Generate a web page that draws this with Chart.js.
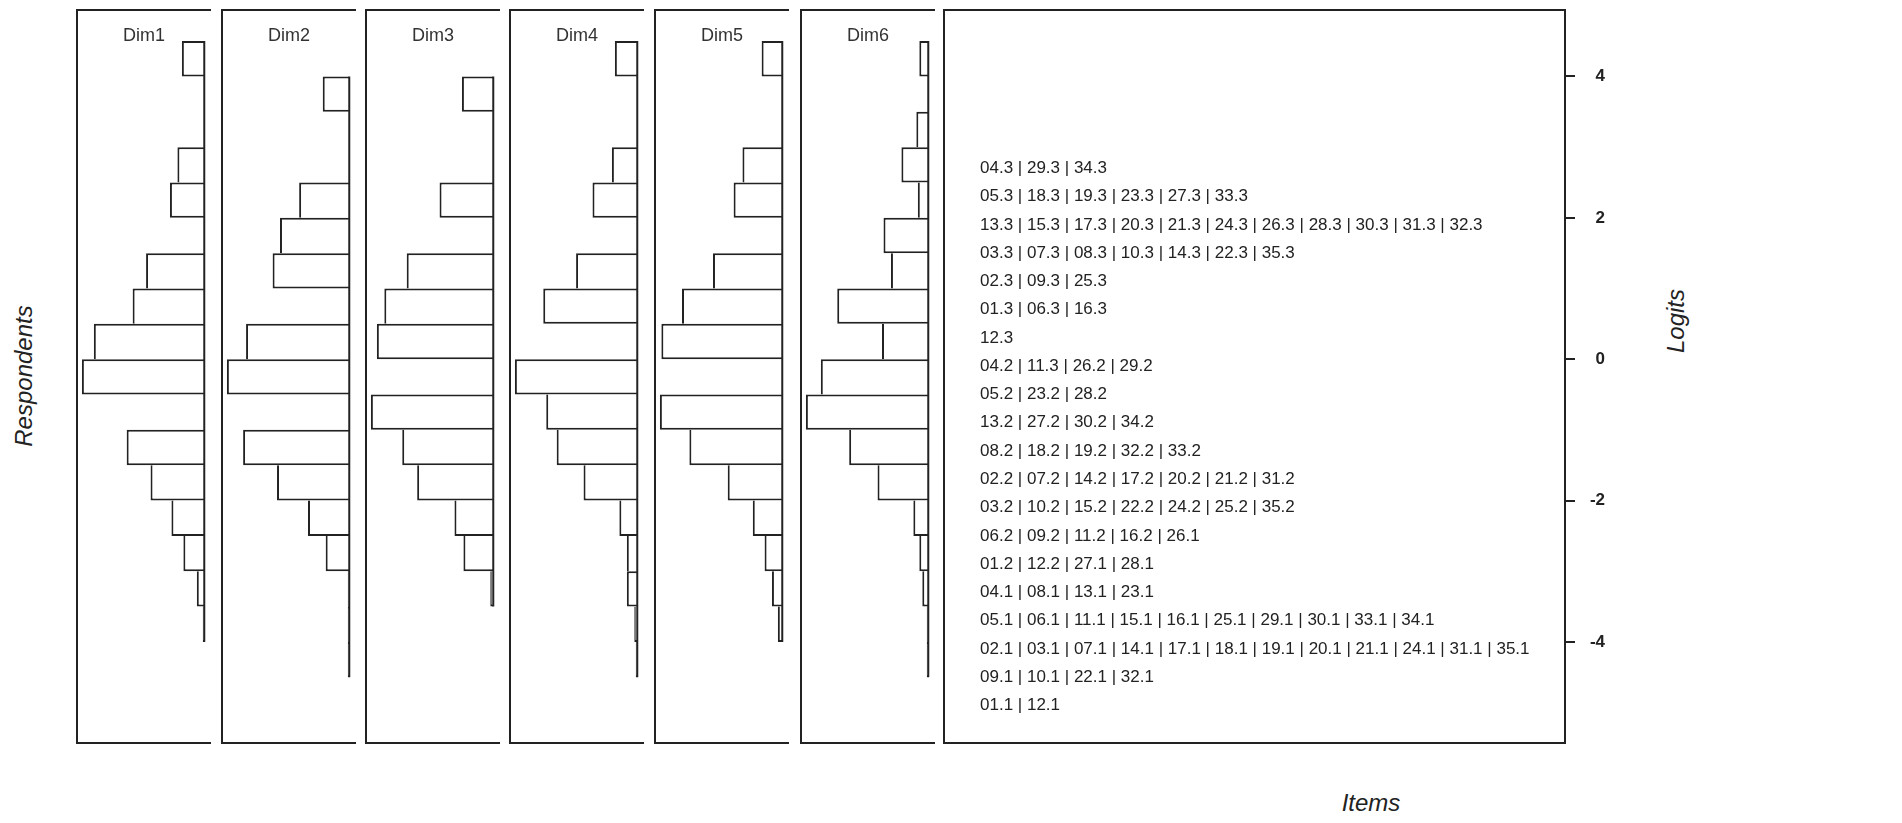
<!DOCTYPE html>
<html><head><meta charset="utf-8">
<script src="https://cdn.jsdelivr.net/npm/chart.js@4.4.0/dist/chart.umd.min.js"></script>
<style>
html,body{margin:0;padding:0;background:#fff;width:1902px;height:823px;overflow:hidden;font-family:"Liberation Sans",Arial,sans-serif;}
.frame{position:absolute;box-sizing:border-box;border:2px solid #222;pointer-events:none;}
.box{position:absolute;}
.lbl{position:absolute;color:#222;font-style:italic;white-space:nowrap;font-size:24px;line-height:24px;}
</style></head><body>
<script>
// ---------------- data ----------------
const binCenters = [4.25, 3.75, 3.25, 2.75, 2.25, 1.75, 1.25, 0.75, 0.25, -0.25, -0.75, -1.25, -1.75, -2.25, -2.75, -3.25, -3.75, -4.25];
const binWidth = 0.5;
const dimNames = ["Dim1", "Dim2", "Dim3", "Dim4", "Dim5", "Dim6"];
const dim1Counts = [15, 0, 0, 18, 23, 0, 39, 48, 74, 82, 0, 52, 36, 22, 14, 5, 1, 0];
const dim2Counts = [0, 18, 0, 0, 34, 47, 52, 0, 70, 83, 0, 72, 49, 28, 16, 1, 1, 1];
const dim3Counts = [0, 21, 0, 0, 36, 0, 58, 73, 78, 0, 82, 61, 51, 26, 20, 2, 0, 0];
const dim4Counts = [15, 0, 0, 17, 30, 0, 41, 63, 0, 82, 61, 54, 36, 12, 7, 7, 2, 1];
const dim5Counts = [14, 0, 0, 27, 33, 0, 47, 68, 82, 0, 83, 63, 37, 20, 12, 7, 3, 0];
const dim6Counts = [6, 0, 8, 18, 7, 30, 25, 61, 31, 72, 82, 53, 34, 10, 6, 4, 1, 1];
const itemRowLogits = [2.7, 2.3, 1.9, 1.5, 1.1, 0.7, 0.3, -0.1, -0.5, -0.9, -1.3, -1.7, -2.1, -2.5, -2.9, -3.3, -3.7, -4.1, -4.5, -4.9];
const itemRowLabels = [
  "04.3 | 29.3 | 34.3",
  "05.3 | 18.3 | 19.3 | 23.3 | 27.3 | 33.3",
  "13.3 | 15.3 | 17.3 | 20.3 | 21.3 | 24.3 | 26.3 | 28.3 | 30.3 | 31.3 | 32.3",
  "03.3 | 07.3 | 08.3 | 10.3 | 14.3 | 22.3 | 35.3",
  "02.3 | 09.3 | 25.3",
  "01.3 | 06.3 | 16.3",
  "12.3",
  "04.2 | 11.3 | 26.2 | 29.2",
  "05.2 | 23.2 | 28.2",
  "13.2 | 27.2 | 30.2 | 34.2",
  "08.2 | 18.2 | 19.2 | 32.2 | 33.2",
  "02.2 | 07.2 | 14.2 | 17.2 | 20.2 | 21.2 | 31.2",
  "03.2 | 10.2 | 15.2 | 22.2 | 24.2 | 25.2 | 35.2",
  "06.2 | 09.2 | 11.2 | 16.2 | 26.1",
  "01.2 | 12.2 | 27.1 | 28.1",
  "04.1 | 08.1 | 13.1 | 23.1",
  "05.1 | 06.1 | 11.1 | 15.1 | 16.1 | 25.1 | 29.1 | 30.1 | 33.1 | 34.1",
  "02.1 | 03.1 | 07.1 | 14.1 | 17.1 | 18.1 | 19.1 | 20.1 | 21.1 | 24.1 | 31.1 | 35.1",
  "09.1 | 10.1 | 22.1 | 32.1",
  "01.1 | 12.1"
];
const logitTicks = [4, 2, 0, -2, -4];
const logitMin = -5.43, logitMax = 4.94;

// ---------------- layout ----------------
const INK = "#222";
const TOP = 10, HEIGHT = 733;
const panelLefts = [77, 222, 366, 510, 655, 801];
const PANEL_W = 134;
const ITEMS_LEFT = 944, ITEMS_W = 621, RIGHT_AXIS_W = 40;

Chart.defaults.font.family = "'Liberation Sans', Arial, sans-serif";

function addDiv(cls, l, t, w, h, extra) {
  const d = document.createElement("div");
  d.className = cls;
  Object.assign(d.style, {left: l + "px", top: t + "px", width: w + "px", height: h + "px"}, extra || {});
  document.body.appendChild(d);
  return d;
}
function addCanvas(l, t, w, h) {
  const box = addDiv("box", l, t, w, h);
  const c = document.createElement("canvas");
  box.appendChild(c);
  return c;
}
const noPad = s => { s.paddingTop = 0; s.paddingBottom = 0; s.paddingLeft = 0; s.paddingRight = 0; };

const titlePlugin = (title) => ({
  id: "dimTitle",
  afterDraw(chart) {
    const {ctx, chartArea} = chart;
    ctx.save();
    ctx.font = "18px 'Liberation Sans', Arial, sans-serif";
    ctx.fillStyle = "#333";
    ctx.textAlign = "center";
    ctx.textBaseline = "middle";
    ctx.fillText(title, (chartArea.left + chartArea.right) / 2, chartArea.top + 26);
    ctx.restore();
  }
});

function makePanel(k, counts) {
  const L = panelLefts[k];
  const canvas = addCanvas(L, TOP, PANEL_W, HEIGHT);
  addDiv("frame", L - 1, TOP - 1, PANEL_W + 1, HEIGHT + 2, {borderRight: "none"});
  const M = Math.max(...counts);
  const nz = counts.map((c, i) => (c > 0 ? i : -1)).filter(i => i >= 0);
  const topEdge = binCenters[nz[0]] + binWidth / 2;
  const botEdge = binCenters[nz[nz.length - 1]] - binWidth / 2;
  const W = 2;
  new Chart(canvas, {
    type: "bar",
    data: {
      datasets: [
        {type: "line", data: [{x: 0, y: topEdge}, {x: 0, y: botEdge}], borderColor: INK, borderWidth: 2,
         pointRadius: 0, tension: 0, order: 0},
        {type: "bar", data: binCenters.map((y, i) => ({x: counts[i], y: y})),
         backgroundColor: "#fff", borderColor: INK, borderSkipped: false, inflateAmount: 0,
         barPercentage: 1, categoryPercentage: 1, order: 1,
         borderWidth: (ctx) => {
           if (ctx.type !== "data") return W;
           const i = ctx.dataIndex;
           const c = counts[i];
           const above = i > 0 ? counts[i - 1] : 0;
           const below = i < counts.length - 1 ? counts[i + 1] : 0;
           return {top: c >= above ? W : 0, bottom: c > below ? W : 0, left: W, right: 0};
         }}
      ]
    },
    options: {
      indexAxis: "y", responsive: true, maintainAspectRatio: false, animation: false,
      layout: {padding: 0, autoPadding: false},
      plugins: {legend: {display: false}, tooltip: {enabled: false}},
      scales: {
        x: {type: "linear", reverse: true, min: -0.055 * M, max: 1.04 * M, display: false, offset: false},
        y: {type: "linear", min: logitMin, max: logitMax, display: false, offset: false}
      }
    },
    plugins: [titlePlugin(dimNames[k])]
  });
}

[dim1Counts, dim2Counts, dim3Counts, dim4Counts, dim5Counts, dim6Counts].forEach((c, k) => makePanel(k, c));

// items panel
const itemsCanvas = addCanvas(ITEMS_LEFT, TOP, ITEMS_W + RIGHT_AXIS_W, HEIGHT);
addDiv("frame", ITEMS_LEFT - 1, TOP - 1, ITEMS_W + 2, HEIGHT + 2);
new Chart(itemsCanvas, {
  type: "scatter",
  data: {datasets: []},
  options: {
    responsive: true, maintainAspectRatio: false, animation: false,
    layout: {padding: 0, autoPadding: false},
    plugins: {legend: {display: false}, tooltip: {enabled: false}},
    scales: {
      x: {type: "linear", display: false, min: 0, max: 1},
      y: {type: "linear", position: "left", min: logitMin, max: logitMax, offset: false,
        afterBuildTicks: s => { s.ticks = itemRowLogits.map(v => ({value: v})); },
        afterFit: s => { s.width = 0; noPad(s); },
        grid: {display: false}, border: {display: false},
        ticks: {mirror: true, padding: 36, autoSkip: false, color: INK, font: {size: 17},
                callback: (v, i) => itemRowLabels[i]}
      },
      y2: {type: "linear", position: "right", min: logitMin, max: logitMax, offset: false,
        afterBuildTicks: s => { s.ticks = logitTicks.map(v => ({value: v})); },
        afterFit: s => { s.width = RIGHT_AXIS_W; noPad(s); },
        grid: {drawOnChartArea: false, drawTicks: true, tickLength: 10, color: INK, lineWidth: 2},
        border: {display: false},
        ticks: {autoSkip: false, padding: 14, crossAlign: "far", color: INK, font: {size: 17, weight: "bold"},
                callback: v => String(v)}
      }
    }
  }
});

// axis titles
const resp = addDiv("lbl", 24 - 80, 376 - 12, 160, 24, {textAlign: "center", transform: "rotate(-90deg)"});
resp.textContent = "Respondents";
const items = addDiv("lbl", 1371 - 60, 803 - 12, 120, 24, {textAlign: "center"});
items.textContent = "Items";
const logits = addDiv("lbl", 1676 - 60, 321 - 12, 120, 24, {textAlign: "center", transform: "rotate(-90deg)"});
logits.textContent = "Logits";
</script>
</body></html>
